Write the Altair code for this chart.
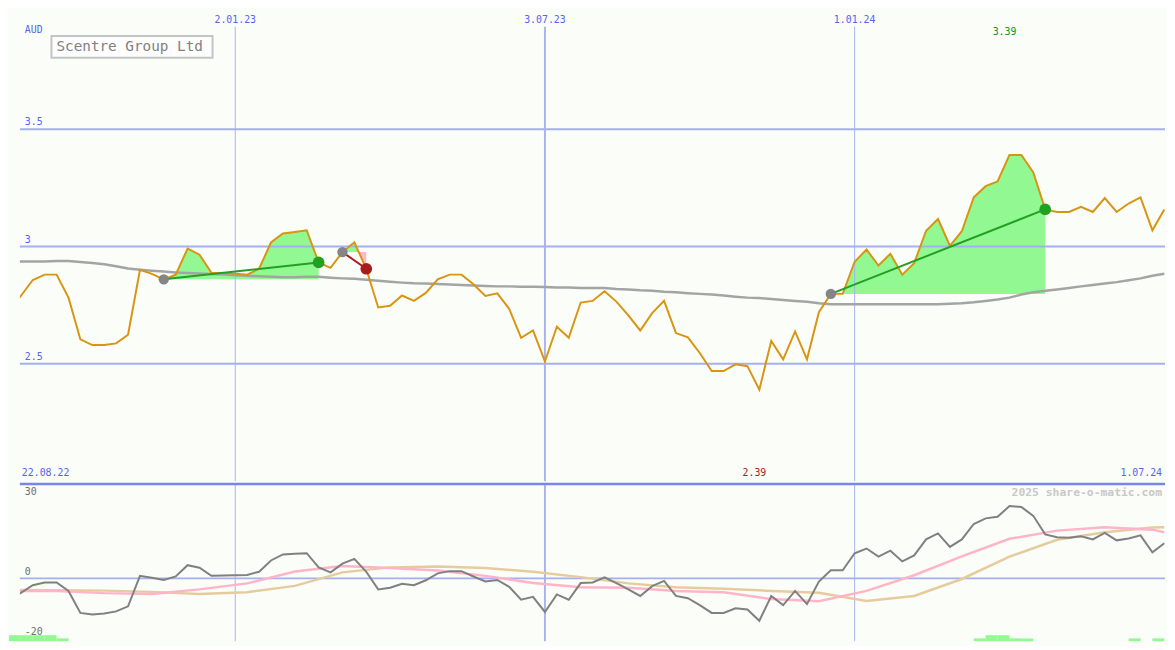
import altair as alt
import pandas as pd

# ---------------- data ----------------
weeks = pd.date_range("2022-08-22", periods=98, freq="7D")

price = [2.727, 2.789, 2.857, 2.880, 2.880, 2.782, 2.604, 2.580, 2.580, 2.587,
         2.624, 2.901, 2.883, 2.860, 2.880, 2.991, 2.965, 2.888, 2.887, 2.884,
         2.880, 2.905, 3.017, 3.055, 3.062, 3.069, 2.932, 2.909, 2.976, 3.018,
         2.905, 2.740, 2.747, 2.791, 2.768, 2.802, 2.860, 2.880, 2.880, 2.839,
         2.789, 2.800, 2.734, 2.611, 2.642, 2.510, 2.658, 2.611, 2.761, 2.768,
         2.809, 2.765, 2.706, 2.642, 2.716, 2.768, 2.631, 2.613, 2.546, 2.469,
         2.469, 2.498, 2.490, 2.390, 2.597, 2.519, 2.638, 2.519, 2.720, 2.798,
         2.798, 2.935, 2.987, 2.919, 2.969, 2.880, 2.929, 3.067, 3.117, 3.003,
         3.065, 3.209, 3.257, 3.277, 3.390, 3.390, 3.315, 3.158, 3.147, 3.147,
         3.169, 3.147, 3.206, 3.147, 3.183, 3.209, 3.069, 3.158]

moving_avg = [2.936, 2.936, 2.936, 2.936, 2.938, 2.938, 2.934, 2.930, 2.924, 2.916,
              2.906, 2.901, 2.897, 2.893, 2.889, 2.887, 2.885, 2.883, 2.881, 2.877,
              2.875, 2.873, 2.871, 2.869, 2.869, 2.871, 2.871, 2.867, 2.864, 2.862,
              2.858, 2.854, 2.850, 2.846, 2.843, 2.842, 2.840, 2.838, 2.836, 2.834,
              2.832, 2.830, 2.830, 2.828, 2.828, 2.827, 2.825, 2.825, 2.823, 2.823,
              2.823, 2.819, 2.817, 2.813, 2.811, 2.807, 2.805, 2.801, 2.798, 2.795,
              2.791, 2.786, 2.782, 2.780, 2.776, 2.772, 2.768, 2.764, 2.758, 2.754,
              2.754, 2.754, 2.754, 2.754, 2.754, 2.754, 2.754, 2.754, 2.754, 2.756,
              2.758, 2.762, 2.768, 2.774, 2.782, 2.795, 2.805, 2.811, 2.817, 2.823,
              2.830, 2.836, 2.842, 2.848, 2.856, 2.864, 2.875, 2.884]

oscillator = [-6.7, -4.6, -2.2, -1.3, -1.3, -4.0, -11.0, -11.5, -11.2, -10.5,
              -8.9, 0.8, 0.2, -0.5, 0.6, 4.2, 3.4, 0.8, 0.9, 1.0,
              1.1, 2.1, 5.7, 7.6, 7.8, 8.0, 3.5, 1.9, 4.7, 6.2,
              2.1, -3.5, -3.0, -1.7, -2.2, -0.6, 1.6, 2.3, 2.3, 0.6,
              -1.0, -0.5, -2.7, -6.8, -5.9, -10.7, -5.1, -6.8, -1.5, -1.3,
              0.3, -1.5, -3.5, -5.6, -2.5, -0.8, -5.6, -6.3, -8.5, -11.0,
              -11.0, -9.5, -9.9, -13.5, -5.6, -8.5, -4.0, -8.2, -1.0, 2.6,
              2.6, 8.0, 9.5, 6.9, 8.8, 5.4, 7.3, 12.4, 14.3, 10.0,
              12.4, 17.3, 19.1, 19.6, 23.0, 22.7, 19.9, 14.0, 13.1, 12.9,
              13.4, 12.4, 14.5, 12.1, 12.7, 13.7, 8.3, 11.2]

smooth_idx = list(range(0, 98, 4)) + [97]
signal_pink = [-4.0, -4.0, -4.7, -5.0, -3.5, -1.6, 2.2, 3.9, 3.3, 2.5, 0.8, -1.5, -2.8,
               -3.0, -4.0, -4.4, -6.6, -7.3, -4.0, 1.0, 7.0, 12.6, 15.2, 16.3, 15.5, 14.7]
signal_tan = [-3.7, -3.8, -3.9, -4.3, -5.0, -4.4, -2.4, 1.9, 3.5, 3.8, 3.3, 2.1, 0.4,
              -1.6, -2.8, -3.3, -4.0, -4.6, -7.2, -5.6, -0.2, 6.9, 12.3, 14.7, 16.2, 16.3]

trade_start = [13, 28, 69]
trade_end = [26, 30, 87]

bar_week = [0, 1, 2, 3, 4, 81, 82, 83, 84, 85, 94, 96]
bar_height = [1.9, 1.9, 1.9, 1.9, 0.9, 0.9, 1.9, 1.9, 0.9, 0.9, 0.9, 0.9]

grid_dates = ["2023-01-02", "2023-07-03", "2024-01-01"]
grid_labels = ["2.01.23", "3.07.23", "1.01.24"]
grid_widths = [1, 2, 1]
price_ticks = [3.5, 3.0, 2.5]
price_tick_labels = ["3.5", "3", "2.5"]

# ---------------- frames ----------------
df = pd.DataFrame({"date": weeks, "price": price, "ma": moving_avg, "osc": oscillator})
sm = pd.DataFrame({"date": weeks[smooth_idx], "pink": signal_pink, "tan": signal_tan})

fill_rows = []
for t, (s, e) in enumerate(zip(trade_start, trade_end)):
    base = price[s]
    for k in range(s, e + 1):
        if k > s:
            p0, p1 = price[k - 1], price[k]
            if (p0 - base) * (p1 - base) < 0:
                f = (base - p0) / (p1 - p0)
                d = weeks[k - 1] + (weeks[k] - weeks[k - 1]) * f
                fill_rows.append(dict(trade=t, date=d, up=base, dn=base, base=base))
        p = price[k]
        fill_rows.append(dict(trade=t, date=weeks[k], up=max(p, base), dn=min(p, base), base=base))
fill_df = pd.DataFrame(fill_rows)

trades = pd.DataFrame({
    "trade": list(range(len(trade_start))),
    "d0": [weeks[s] for s in trade_start],
    "d1": [weeks[e] for e in trade_end],
    "p0": [price[s] for s in trade_start],
    "p1": [price[e] for e in trade_end],
})
trades["result"] = ["win" if b >= a else "loss" for a, b in zip(trades.p0, trades.p1)]

grid_df = pd.DataFrame({"date": pd.to_datetime(grid_dates), "label": grid_labels, "w": grid_widths})
ptick_df = pd.DataFrame({"v": price_ticks, "label": price_tick_labels})

bars = pd.DataFrame({
    "d0": [weeks[i] for i in bar_week],
    "d1": [weeks[i + 1] for i in bar_week],
    "h": [-20 + h for h in bar_height],
})
hi_i = max(range(len(price)), key=lambda i: price[i])
lo_i = min(range(len(price)), key=lambda i: price[i])
hilo = pd.DataFrame({"date": [weeks[hi_i]], "label": [f"{price[hi_i]:.2f}"]})
lo = pd.DataFrame({"date": [weeks[lo_i]], "label": [f"{price[lo_i]:.2f}"]})

# ---------------- styling ----------------
W, H1, H2 = 1159, 475, 159
FONT = "DejaVu Sans Mono"
BLUE_TXT = "#5464f0"
xs = alt.Scale(domain=[alt.DateTime(year=2022, month=8, date=28, hours=10),
                       alt.DateTime(year=2024, month=7, date=1, hours=10)])
ys = alt.Scale(domain=[2.0, 4.0], nice=False, zero=False)
ys2 = alt.Scale(domain=[-20, 30], nice=False, zero=False)
X = alt.X("date:T", scale=xs, axis=None)

# ---------------- top panel ----------------
green_fill = alt.Chart(fill_df).mark_area(color="#92f892", opacity=1, clip=True).encode(
    x=X, y=alt.Y("up:Q", scale=ys, axis=None), y2="base:Q", detail="trade:N")
pink_fill = alt.Chart(fill_df).mark_area(color="#ffb8c8", opacity=1, clip=True).encode(
    x=X, y=alt.Y("dn:Q", scale=ys, axis=None), y2="base:Q", detail="trade:N")
hgrid = alt.Chart(ptick_df).mark_rule(color="#a4b0f0", strokeWidth=2).encode(
    y=alt.Y("v:Q", scale=ys, axis=None))
vgrid = alt.Chart(grid_df).mark_rule(color="#a8b4f0").encode(
    x=X, y=alt.value(15), y2=alt.value(H1),
    strokeWidth=alt.StrokeWidth("w:Q", scale=None))
ma_line = alt.Chart(df).mark_line(color="#a4a4a4", strokeWidth=2.5, clip=True).encode(
    x=X, y=alt.Y("ma:Q", scale=ys, axis=None))
price_line = alt.Chart(df).mark_line(color="#d99412", strokeWidth=2, clip=True).encode(
    x=X, y=alt.Y("price:Q", scale=ys, axis=None))
res_scale = alt.Scale(domain=["win", "loss"], range=["#22a022", "#a81c1c"])
trade_lines = alt.Chart(trades).mark_rule(strokeWidth=2).encode(
    x=alt.X("d0:T", scale=xs, axis=None), x2="d1:T",
    y=alt.Y("p0:Q", scale=ys, axis=None), y2="p1:Q",
    color=alt.Color("result:N", scale=res_scale, legend=None))
start_dots = alt.Chart(trades).mark_circle(size=110, opacity=1, color="#858585").encode(
    x=alt.X("d0:T", scale=xs, axis=None), y=alt.Y("p0:Q", scale=ys, axis=None))
end_dots = alt.Chart(trades).mark_circle(size=140, opacity=1).encode(
    x=alt.X("d1:T", scale=xs, axis=None), y=alt.Y("p1:Q", scale=ys, axis=None),
    color=alt.Color("result:N", scale=res_scale, legend=None))

date_txt = alt.Chart(grid_df).mark_text(font=FONT, fontSize=10, color=BLUE_TXT, baseline="middle").encode(
    x=X, y=alt.value(8), text="label:N")
ptick_txt = alt.Chart(ptick_df).mark_text(font=FONT, fontSize=10, color=BLUE_TXT, align="left",
                                          baseline="bottom", dy=-2).encode(
    x=alt.value(5), y=alt.Y("v:Q", scale=ys, axis=None), text="label:N")
aud_txt = alt.Chart(pd.DataFrame({"t": ["AUD"]})).mark_text(
    font=FONT, fontSize=10, color=BLUE_TXT, align="left", baseline="middle").encode(
    x=alt.value(5), y=alt.value(18), text="t:N")
box = alt.Chart(pd.DataFrame({"t": [0]})).mark_rect(fill="#fdfdfd", stroke="#c4c4c4", strokeWidth=2).encode(
    x=alt.value(32), x2=alt.value(195), y=alt.value(24.5), y2=alt.value(46.5))
title_txt = alt.Chart(pd.DataFrame({"t": ["Scentre Group Ltd"]})).mark_text(
    font=FONT, fontSize=14.5, color="#808080", align="left", baseline="middle").encode(
    x=alt.value(37), y=alt.value(36), text="t:N")
hi_txt = alt.Chart(hilo).mark_text(font=FONT, fontSize=10, color="#229022", baseline="middle", dx=-5).encode(
    x=X, y=alt.value(20.5), text="label:N")
lo_txt = alt.Chart(lo).mark_text(font=FONT, fontSize=10, color="#a81c1c", baseline="middle", dx=-5).encode(
    x=X, y=alt.value(467), text="label:N")
range_txt = alt.Chart(pd.DataFrame({"t": ["22.08.22"]})).mark_text(
    font=FONT, fontSize=10, color=BLUE_TXT, align="left", baseline="middle").encode(
    x=alt.value(2), y=alt.value(467), text="t:N")
range_txt2 = alt.Chart(pd.DataFrame({"t": ["1.07.24"]})).mark_text(
    font=FONT, fontSize=10, color=BLUE_TXT, align="right", baseline="middle").encode(
    x=alt.value(W - 3), y=alt.value(467), text="t:N")

top = alt.layer(green_fill, pink_fill, hgrid, vgrid, ma_line, price_line, trade_lines,
                start_dots, end_dots, date_txt, ptick_txt, aud_txt, box, title_txt,
                hi_txt, lo_txt, range_txt, range_txt2).properties(width=W, height=H1)

# ---------------- bottom panel ----------------
bar_marks = alt.Chart(bars).mark_rect(color="#92f892").encode(
    x=alt.X("d0:T", scale=xs, axis=None), x2="d1:T",
    y=alt.Y("h:Q", scale=ys2, axis=None), y2=alt.datum(-20))
vgrid2 = alt.Chart(grid_df).mark_rule(color="#a8b4f0").encode(
    x=X, strokeWidth=alt.StrokeWidth("w:Q", scale=None))
zero_line = alt.Chart(pd.DataFrame({"v": [0]})).mark_rule(color="#a4b0f0", strokeWidth=2).encode(
    y=alt.Y("v:Q", scale=ys2, axis=None))
tan_line = alt.Chart(sm).mark_line(color="#e6cc9c", strokeWidth=2.5, clip=True).encode(
    x=X, y=alt.Y("tan:Q", scale=ys2, axis=None))
pink_line = alt.Chart(sm).mark_line(color="#ffb4c8", strokeWidth=2.5, clip=True).encode(
    x=X, y=alt.Y("pink:Q", scale=ys2, axis=None))
osc_line = alt.Chart(df).mark_line(color="#808080", strokeWidth=2, clip=True).encode(
    x=X, y=alt.Y("osc:Q", scale=ys2, axis=None))
boundary = alt.Chart(pd.DataFrame({"v": [30]})).mark_rule(color="#7886ec", strokeWidth=2.5).encode(
    y=alt.Y("v:Q", scale=ys2, axis=None))
osc_ticks = pd.DataFrame({"label": ["30", "0", "-20"], "py": [8, 89, 150]})
osc_txt = alt.Chart(osc_ticks).mark_text(font=FONT, fontSize=10, color="#707070", align="left",
                                         baseline="middle").encode(
    x=alt.value(5), y=alt.Y("py:Q", scale=None), text="label:N")
wm_txt = alt.Chart(pd.DataFrame({"t": ["2025 share-o-matic.com"]})).mark_text(
    font=FONT, fontSize=11.5, fontWeight="bold", color="#c8c8c8", align="right", baseline="middle").encode(
    x=alt.value(W - 3), y=alt.value(9), text="t:N")

bottom = alt.layer(bar_marks, vgrid2, zero_line, tan_line, pink_line, osc_line, boundary,
                   osc_txt, wm_txt).properties(width=W, height=H2)

chart = alt.vconcat(top, bottom, spacing=0).properties(
    background="#fbfdf9", padding=0
).configure_view(strokeWidth=0)

chart.save("out.html", embed_options={"renderer": "svg", "actions": False})
